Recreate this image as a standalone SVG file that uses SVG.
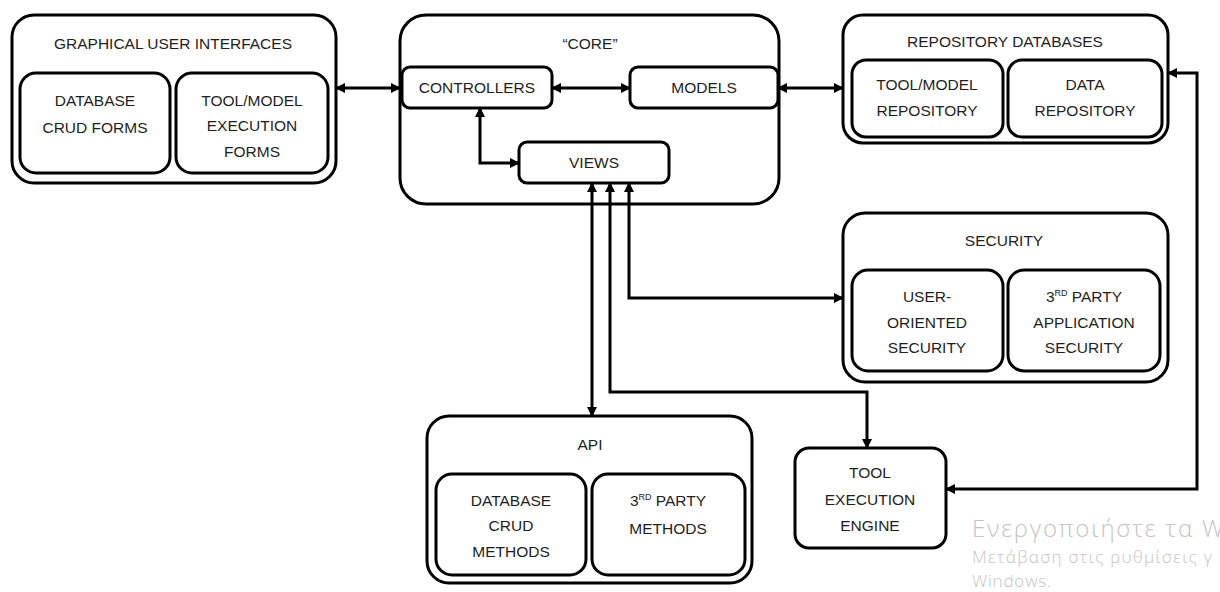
<svg xmlns="http://www.w3.org/2000/svg" width="1220" height="592" viewBox="0 0 1220 592">
<style>
  .box{fill:#fff;stroke:#000;stroke-width:3}
  .t{font-family:"Liberation Sans",Arial,sans-serif;font-size:15.5px;fill:#1e1e1e;text-anchor:middle}
  .c{fill:none;stroke:#000;stroke-width:3;marker-start:url(#ah);marker-end:url(#ah)}
  .wm{font-family:"Open Sans","Noto Sans",sans-serif;font-weight:300;fill:#c4c4c4}
  .sup{font-size:9px}
</style>
<defs>
  <marker id="ah" viewBox="0 0 10 10" refX="9" refY="5" markerWidth="10" markerHeight="10" markerUnits="userSpaceOnUse" orient="auto-start-reverse">
    <path d="M0,0 L10,5 L0,10 z" fill="#000"/>
  </marker>
</defs>
<rect width="1220" height="592" fill="#fff"/>

<g id="gui">
  <rect class="box" x="12" y="15" width="324" height="168" rx="22"/>
  <text class="t" x="173" y="49">GRAPHICAL USER INTERFACES</text>
  <rect class="box" x="20" y="73" width="150" height="100" rx="16"/>
  <text class="t" x="95" y="106">DATABASE</text>
  <text class="t" x="95" y="133">CRUD FORMS</text>
  <rect class="box" x="176" y="73" width="152" height="100" rx="16"/>
  <text class="t" x="252" y="106">TOOL/MODEL</text>
  <text class="t" x="252" y="131">EXECUTION</text>
  <text class="t" x="252" y="157">FORMS</text>
</g>

<g id="core">
  <rect class="box" x="400" y="15" width="379" height="189" rx="26"/>
  <text class="t" x="590" y="49">“CORE”</text>
</g>
<g id="controllers">
  <rect class="box" x="402" y="67" width="150" height="41" rx="8"/>
  <text class="t" x="477" y="93">CONTROLLERS</text>
</g>
<g id="models">
  <rect class="box" x="630" y="67" width="148" height="41" rx="8"/>
  <text class="t" x="704" y="93">MODELS</text>
</g>
<g id="views">
  <rect class="box" x="519" y="142" width="150" height="41" rx="8"/>
  <text class="t" x="594" y="168">VIEWS</text>
</g>

<g id="repository">
  <rect class="box" x="843" y="15" width="325" height="128" rx="20"/>
  <text class="t" x="1005" y="47">REPOSITORY DATABASES</text>
  <rect class="box" x="852" y="60" width="151" height="77" rx="14"/>
  <text class="t" x="927" y="90">TOOL/MODEL</text>
  <text class="t" x="927" y="116">REPOSITORY</text>
  <rect class="box" x="1008" y="60" width="154" height="77" rx="14"/>
  <text class="t" x="1085" y="90">DATA</text>
  <text class="t" x="1085" y="116">REPOSITORY</text>
</g>

<g id="security">
  <rect class="box" x="843" y="213" width="325" height="169" rx="22"/>
  <text class="t" x="1004" y="246">SECURITY</text>
  <rect class="box" x="852" y="270" width="151" height="101" rx="16"/>
  <text class="t" x="927" y="302">USER-</text>
  <text class="t" x="927" y="328">ORIENTED</text>
  <text class="t" x="927" y="353">SECURITY</text>
  <rect class="box" x="1008" y="270" width="152" height="101" rx="16"/>
  <text class="t" x="1084" y="302">3<tspan class="sup" dy="-6">RD</tspan><tspan dy="6"> PARTY</tspan></text>
  <text class="t" x="1084" y="328">APPLICATION</text>
  <text class="t" x="1084" y="353">SECURITY</text>
</g>

<g id="api">
  <rect class="box" x="427" y="416" width="325" height="167" rx="22"/>
  <text class="t" x="590" y="450">API</text>
  <rect class="box" x="436" y="474" width="150" height="101" rx="16"/>
  <text class="t" x="511" y="506">DATABASE</text>
  <text class="t" x="511" y="531">CRUD</text>
  <text class="t" x="511" y="557">METHODS</text>
  <rect class="box" x="592" y="474" width="153" height="101" rx="16"/>
  <text class="t" x="668" y="506">3<tspan class="sup" dy="-6">RD</tspan><tspan dy="6"> PARTY</tspan></text>
  <text class="t" x="668" y="534">METHODS</text>
</g>

<g id="engine">
  <rect class="box" x="795" y="448" width="151" height="100" rx="14"/>
  <text class="t" x="870" y="478">TOOL</text>
  <text class="t" x="870" y="505">EXECUTION</text>
  <text class="t" x="870" y="531">ENGINE</text>
</g>

<g id="connectors">
  <path class="c" d="M336,88 H400"/>
  <path class="c" d="M552,88 H630"/>
  <path class="c" d="M778,88 H843"/>
  <path class="c" d="M480,108 V163 H519"/>
  <path class="c" d="M592,183 V416"/>
  <path class="c" d="M610,183 V392 H867 V448"/>
  <path class="c" d="M629,183 V298 H843"/>
  <path class="c" d="M1168,73 H1197 V489 H946"/>
</g>

<g id="watermark">
  <text class="wm" x="972" y="537" font-size="24" letter-spacing="1.8">Ενεργοποιήστε τα W</text>
  <text class="wm" x="972" y="563" font-size="17" letter-spacing="1.3">Μετάβαση στις ρυθμίσεις γ</text>
  <text class="wm" x="972" y="587" font-size="17" letter-spacing="0.8">Windows.</text>
</g>
</svg>
